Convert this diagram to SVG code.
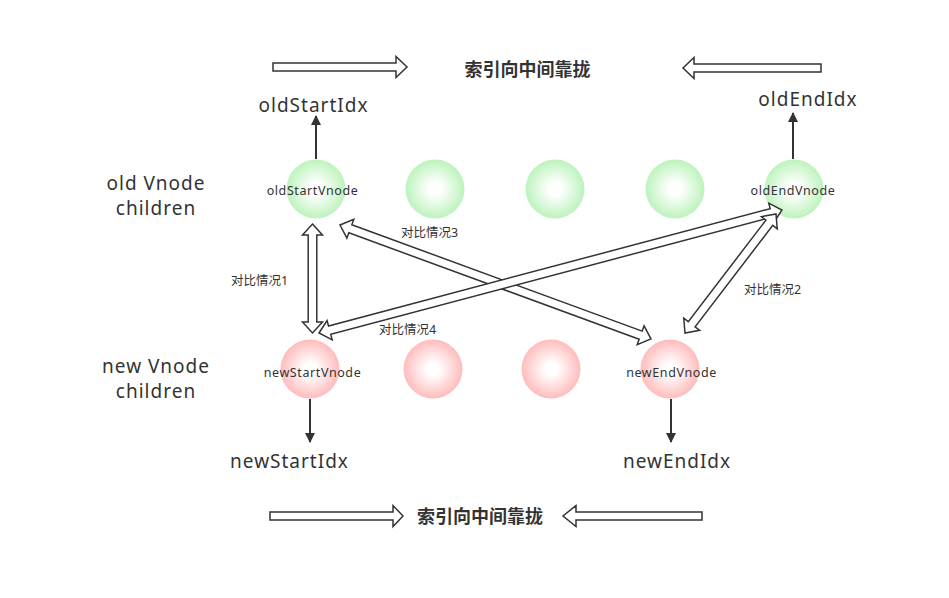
<svg xmlns="http://www.w3.org/2000/svg" width="949" height="598" viewBox="0 0 949 598">
<defs>
<radialGradient id="gg" cx="50%" cy="50%" r="50%">
<stop offset="0" stop-color="#ffffff"/><stop offset="0.2" stop-color="#ffffff"/><stop offset="1" stop-color="#bdf3bd"/>
</radialGradient>
<radialGradient id="pg" cx="50%" cy="50%" r="50%">
<stop offset="0" stop-color="#ffffff"/><stop offset="0.2" stop-color="#ffffff"/><stop offset="1" stop-color="#ffbcbc"/>
</radialGradient>
<marker id="ah" viewBox="0 0 10 10" refX="9" refY="5" markerWidth="10" markerHeight="10" markerUnits="userSpaceOnUse" orient="auto">
<path d="M0,0 L10,5 L0,10 z" fill="#333"/>
</marker>
</defs>
<style>
.t{font-family:"Noto Sans","Noto Sans CJK SC",sans-serif;fill:#333;text-anchor:middle}
.big{font-size:19px;letter-spacing:1px}
.node{font-size:12.5px;letter-spacing:0.6px}
.lab{font-size:12.5px}
.ttl{font-size:18px;font-weight:bold}
.hollow{fill:#fff;stroke:#333;stroke-width:1.5;stroke-linejoin:miter}
.ln{stroke:#333;stroke-width:2;fill:none}
.gc{fill:url(#gg)}
.pc{fill:url(#pg)}
</style>
<rect width="949" height="598" fill="#fff"/>

<g id="title-top">
<polygon class="hollow" points="0,-4 123,-4 123,-10.5 134,0 123,10.5 123,4 0,4" transform="translate(273,67)"/>
<polygon class="hollow" points="0,-4 127,-4 127,-10.5 138,0 127,10.5 127,4 0,4" transform="translate(821,68) rotate(180)"/>
<text class="t ttl" x="527.5" y="76">索引向中间靠拢</text>
</g>
<g id="title-bottom">
<polygon class="hollow" points="0,-4 123,-4 123,-10.5 133,0 123,10.5 123,4 0,4" transform="translate(270,516)"/>
<polygon class="hollow" points="0,-4 126,-4 126,-10.5 139,0 126,10.5 126,4 0,4" transform="translate(702,516) rotate(180)"/>
<text class="t ttl" x="480" y="523">索引向中间靠拢</text>
</g>

<g id="row-labels">
<text class="t big" x="156" y="190">old Vnode</text>
<text class="t big" x="156" y="215">children</text>
<text class="t big" x="156" y="373">new Vnode</text>
<text class="t big" x="156" y="398">children</text>
</g>

<g id="old-nodes">
<g id="oldStartVnode"><circle class="gc" cx="316" cy="189" r="29.5"/><text class="t node" x="312.5" y="195">oldStartVnode</text></g>
<g id="old2"><circle class="gc" cx="435" cy="189" r="29.5"/></g>
<g id="old3"><circle class="gc" cx="555" cy="189" r="29.5"/></g>
<g id="old4"><circle class="gc" cx="675" cy="189" r="29.5"/></g>
<g id="oldEndVnode"><circle class="gc" cx="794" cy="189" r="29.5"/><text class="t node" x="793" y="195">oldEndVnode</text></g>
</g>

<g id="new-nodes">
<g id="newStartVnode"><circle class="pc" cx="310" cy="369" r="29.5"/><text class="t node" x="312.5" y="377">newStartVnode</text></g>
<g id="new2"><circle class="pc" cx="433" cy="369" r="29.5"/></g>
<g id="new3"><circle class="pc" cx="551" cy="369" r="29.5"/></g>
<g id="newEndVnode"><circle class="pc" cx="670" cy="369" r="29.5"/><text class="t node" x="671.5" y="377">newEndVnode</text></g>
</g>

<g id="idx-labels">
<text class="t big" x="313.5" y="112">oldStartIdx</text>
<text class="t big" x="808" y="106">oldEndIdx</text>
<text class="t big" x="289.5" y="468">newStartIdx</text>
<text class="t big" x="677" y="468">newEndIdx</text>
</g>

<g id="connectors">
<line class="ln" x1="316" y1="159" x2="316" y2="116" marker-end="url(#ah)"/>
<line class="ln" x1="793" y1="159" x2="793" y2="113" marker-end="url(#ah)"/>
<line class="ln" x1="310" y1="399" x2="310" y2="442" marker-end="url(#ah)"/>
<line class="ln" x1="671" y1="399" x2="671" y2="442" marker-end="url(#ah)"/>

<polygon class="hollow" points="0,0 11,-10 11,-4.3 98,-4.3 98,-10 109,0 98,10 98,4.3 11,4.3 11,10" transform="translate(312.5,224) rotate(90)"/>
<polygon class="hollow" points="0,0 11,-10 11,-4.3 320.2,-4.3 320.2,-10 331.2,0 320.2,10 320.2,4.3 11,4.3 11,10" transform="translate(340,225) rotate(20.13)"/>
<polygon class="hollow" points="0,0 11,-10 11,-4.3 468,-4.3 468,-10 479,0 468,10 468,4.3 11,4.3 11,10" transform="translate(319,333) rotate(-14.88)"/>
<polygon class="hollow" points="0,0 11,-10 11,-4.3 138.8,-4.3 138.8,-10 149.8,0 138.8,10 138.8,4.3 11,4.3 11,10" transform="translate(776,214) rotate(127.4)"/>

<text class="t lab" x="259.5" y="284.5">对比情况1</text>
<text class="t lab" x="772.5" y="293.5">对比情况2</text>
<text class="t lab" x="429.5" y="236.5">对比情况3</text>
<text class="t lab" x="407.5" y="333.5">对比情况4</text>
</g>
</svg>
